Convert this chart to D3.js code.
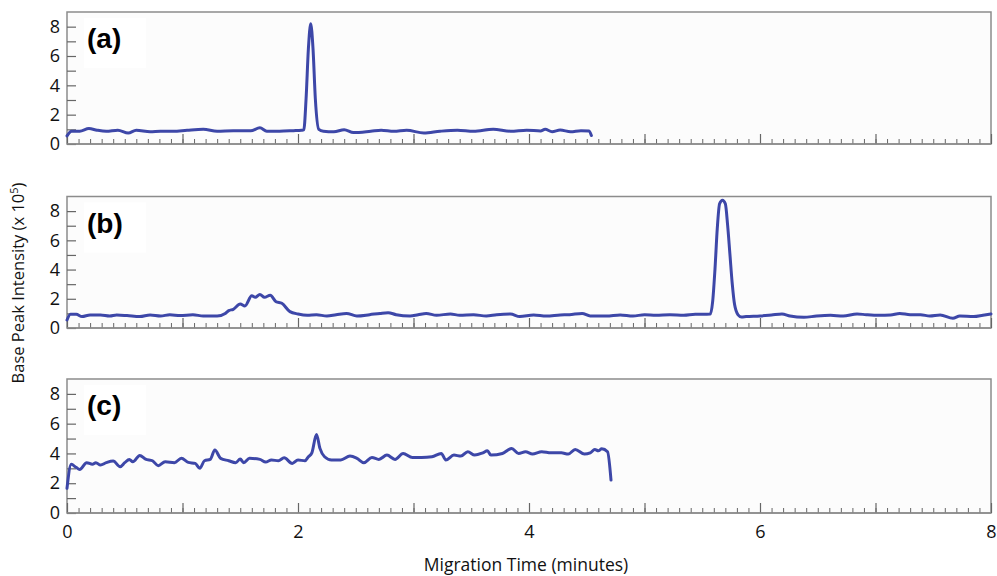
<!DOCTYPE html>
<html>
<head>
<meta charset="utf-8">
<script src="https://cdn.jsdelivr.net/npm/d3@7"></script>
<style>
  body { margin: 0; background: #fff; }
  svg { display: block; }
</style>
</head>
<body>
<svg id="chart"></svg>
<script>
// panel letters
var panelNames = ["(a)", "(b)", "(c)"];

// migration time (minutes) and base peak intensity (x 10^5)
var timeA = [0, 0.04, 0.11, 0.19, 0.26, 0.34, 0.44, 0.53, 0.60, 0.72, 0.81, 0.92, 1.04, 1.18, 1.30, 1.44, 1.59, 1.67, 1.73, 1.84, 1.96, 2.03,
  2.05, 2.07, 2.09, 2.11, 2.13, 2.15, 2.18,
  2.22, 2.31, 2.40, 2.48, 2.63, 2.72, 2.83, 2.94, 3.09, 3.23, 3.38, 3.52, 3.69, 3.84, 3.98, 4.10, 4.14, 4.20, 4.27, 4.36, 4.45, 4.52, 4.54];
var valA = [0.55, 0.87, 0.87, 1.05, 0.94, 0.87, 0.94, 0.75, 0.94, 0.83, 0.87, 0.87, 0.94, 1.0, 0.87, 0.91, 0.91, 1.1, 0.87, 0.87, 0.91, 0.94,
  0.96, 3.1, 6.5, 8.2, 6.5, 3.1, 1.0,
  0.87, 0.83, 0.97, 0.78, 0.87, 0.94, 0.87, 0.94, 0.75, 0.87, 0.94, 0.87, 1.0, 0.87, 0.94, 0.89, 1.0, 0.84, 0.95, 0.84, 0.91, 0.89, 0.58];

var timeB = [0, 0.03, 0.08, 0.13, 0.20, 0.29, 0.37, 0.43, 0.52, 0.63, 0.72, 0.81, 0.89, 0.98, 1.09, 1.18, 1.30,
  1.37, 1.40, 1.44, 1.50, 1.54, 1.60, 1.63, 1.67, 1.71, 1.76, 1.81, 1.86, 1.93, 2.00,
  2.08, 2.16, 2.25, 2.33, 2.42, 2.51, 2.62, 2.71, 2.78, 2.85, 2.97, 3.04, 3.11, 3.20, 3.32, 3.40, 3.52, 3.63, 3.72, 3.84, 3.92,
  4.04, 4.15, 4.27, 4.35, 4.46, 4.53, 4.67, 4.79, 4.90, 5.00, 5.10, 5.22, 5.34, 5.44, 5.54,
  5.57, 5.59, 5.61, 5.63, 5.65, 5.675, 5.70, 5.72, 5.74, 5.76, 5.78, 5.81, 5.84,
  5.88, 6.00, 6.10, 6.19, 6.26, 6.38, 6.49, 6.61, 6.72, 6.84, 6.92, 7.03, 7.13, 7.21, 7.30, 7.39, 7.47, 7.56, 7.67, 7.73, 7.85, 7.93, 8.0];
var valB = [0.55, 0.94, 0.94, 0.78, 0.89, 0.89, 0.82, 0.89, 0.85, 0.78, 0.89, 0.82, 0.91, 0.85, 0.91, 0.82, 0.82,
  1.0, 1.19, 1.28, 1.64, 1.51, 2.21, 2.1, 2.3, 2.1, 2.24, 1.8, 1.69, 1.12, 0.96,
  0.87, 0.91, 0.82, 0.91, 1.0, 0.82, 0.91, 1.0, 1.05, 0.91, 0.82, 0.91, 1.0, 0.87, 0.96, 0.87, 0.91, 0.82, 0.91, 0.96, 0.78,
  0.89, 0.82, 0.89, 0.91, 1.0, 0.82, 0.82, 0.89, 0.82, 0.91, 0.87, 0.91, 0.87, 0.94, 0.94,
  0.95, 1.8, 4.0, 6.8, 8.5, 8.75, 8.5, 7.0, 5.0, 3.0, 1.6, 0.9, 0.75,
  0.78, 0.82, 0.89, 0.96, 0.82, 0.73, 0.82, 0.87, 0.82, 0.96, 0.91, 0.87, 0.89, 1.0, 0.91, 0.91, 0.82, 0.89, 0.66, 0.82, 0.78, 0.87, 0.96];

var timeC = [0, 0.037, 0.078, 0.11, 0.17, 0.22, 0.25, 0.29, 0.34, 0.40, 0.46, 0.50, 0.54, 0.57, 0.63, 0.68, 0.74, 0.79, 0.85, 0.93, 0.99,
  1.05, 1.11, 1.15, 1.19, 1.24, 1.28, 1.33, 1.40, 1.46, 1.50, 1.53, 1.58, 1.67, 1.72, 1.77, 1.83, 1.88, 1.95, 2.00, 2.06, 2.09, 2.12,
  2.16, 2.19, 2.23, 2.29, 2.37, 2.45, 2.51, 2.57, 2.64, 2.70, 2.77, 2.84, 2.91, 2.99, 3.07, 3.16, 3.24, 3.28, 3.35, 3.41, 3.47, 3.53,
  3.60, 3.64, 3.67, 3.77, 3.85, 3.91, 3.97, 4.03, 4.11, 4.19, 4.28, 4.34, 4.40, 4.48, 4.53, 4.57, 4.60, 4.63, 4.68, 4.71];
var valC = [1.66, 3.27, 3.07, 2.93, 3.38, 3.27, 3.38, 3.22, 3.38, 3.49, 3.11, 3.38, 3.6, 3.44, 3.87, 3.62, 3.51, 3.18, 3.44, 3.38, 3.67,
  3.4, 3.33, 3.0, 3.51, 3.6, 4.23, 3.67, 3.51, 3.38, 3.62, 3.38, 3.67, 3.6, 3.42, 3.56, 3.51, 3.71, 3.33, 3.56, 3.51, 3.78, 4.04,
  5.28, 4.34, 3.78, 3.56, 3.56, 3.82, 3.67, 3.38, 3.73, 3.6, 3.89, 3.6, 4.0, 3.73, 3.73, 3.78, 4.0, 3.56, 3.89, 3.82, 4.11, 3.89,
  4.04, 4.18, 3.89, 4.0, 4.34, 4.0, 4.11, 3.96, 4.11, 4.04, 4.04, 3.96, 4.27, 3.96, 4.04, 4.27, 4.18, 4.31, 4.11, 2.21];

// axis ticks
var xLabelTicks = [0, 2, 4, 6, 8];
var yLabelTicks = [0, 2, 4, 6, 8];

var width = 997, height = 576;
var svg = d3.select("#chart").attr("width", width).attr("height", height);

// panel boxes (top, bottom) in pixels
var panels = [
  {name: panelNames[0], t: timeA, v: valA, top: 12, bottom: 144},
  {name: panelNames[1], t: timeB, v: valB, top: 196.5, bottom: 328},
  {name: panelNames[2], t: timeC, v: valC, top: 379, bottom: 513}
];

var x = d3.scaleLinear().domain([0, 8]).range([67, 991]);
var minorX = d3.range(0, 81).map(function(i) { return i / 10; });
var majorX = d3.range(0, 9);

panels.forEach(function(p, idx) {
  var y = d3.scaleLinear().domain([0, 9]).range([p.bottom, p.top]);
  var g = svg.append("g");

  // frame
  g.append("rect")
    .attr("x", x(0)).attr("y", p.top)
    .attr("width", x(8) - x(0)).attr("height", p.bottom - p.top)
    .attr("fill", "#fcfcfc").attr("stroke", "#8c8c8c").attr("stroke-width", 1.5);

  // faint white box behind the panel letter
  g.append("rect")
    .attr("x", 84).attr("y", p.top + 6)
    .attr("width", 62).attr("height", 50)
    .attr("fill", "#ffffff");

  // y axis, ticks pointing inward
  var yAxis = d3.axisLeft(y)
    .tickValues(d3.range(0, 9))
    .tickSize(-9)
    .tickPadding(7)
    .tickFormat(function(d) { return yLabelTicks.indexOf(d) >= 0 ? d : ""; });
  var ya = g.append("g").attr("transform", "translate(" + x(0) + ",0)").call(yAxis);
  ya.select(".domain").remove();
  ya.selectAll("line").attr("stroke", "#666").attr("stroke-width", 1.2);
  ya.selectAll("text").attr("font-family", "'Open Sans', sans-serif").attr("font-size", 18).attr("fill", "#111");

  // x axis minor ticks
  var xm = g.append("g").attr("transform", "translate(0," + p.bottom + ")")
    .call(d3.axisBottom(x).tickValues(minorX).tickSize(-5).tickFormat(""));
  xm.select(".domain").remove();
  xm.selectAll("line").attr("stroke", "#666").attr("stroke-width", 1);

  // x axis major ticks (labels only on the bottom panel)
  var xM = g.append("g").attr("transform", "translate(0," + p.bottom + ")")
    .call(d3.axisBottom(x).tickValues(majorX).tickSize(-10).tickPadding(12)
      .tickFormat(function(d) { return (idx == 2 && xLabelTicks.indexOf(d) >= 0) ? d : ""; }));
  xM.select(".domain").remove();
  xM.selectAll("line").attr("stroke", "#666").attr("stroke-width", 1.2);
  xM.selectAll("text").attr("font-family", "'Open Sans', sans-serif").attr("font-size", 18).attr("fill", "#111");

  // redraw the bottom frame line on top of ticks
  g.append("line")
    .attr("x1", x(0)).attr("x2", x(8)).attr("y1", p.bottom).attr("y2", p.bottom)
    .attr("stroke", "#8c8c8c").attr("stroke-width", 1.5);

  // trace
  var data = p.t.map(function(t, i) { return {t: t, v: p.v[i]}; });
  var line = d3.line()
    .curve(d3.curveMonotoneX)
    .x(function(d) { return x(d.t); })
    .y(function(d) { return y(d.v); });
  g.append("path")
    .datum(data)
    .attr("d", line)
    .attr("fill", "none")
    .attr("stroke", "#3d47a8")
    .attr("stroke-width", 3)
    .attr("stroke-linejoin", "round")
    .attr("stroke-linecap", "round");

  // panel letter
  g.append("text")
    .attr("x", 87).attr("y", p.top + 36)
    .attr("font-family", "'Liberation Sans', Arial, sans-serif")
    .attr("font-weight", "bold")
    .attr("font-size", 28)
    .attr("fill", "#000")
    .text(p.name);
});

// axis titles
svg.append("text")
  .attr("x", 526).attr("y", 571)
  .attr("text-anchor", "middle")
  .attr("font-family", "'Open Sans', sans-serif")
  .attr("font-size", 17.5)
  .attr("fill", "#111")
  .text("Migration Time (minutes)");

var yt = svg.append("text")
  .attr("transform", "translate(24,283) rotate(-90)")
  .attr("text-anchor", "middle")
  .attr("font-family", "'Open Sans', sans-serif")
  .attr("font-size", 16.5)
  .attr("fill", "#111");
yt.append("tspan").text("Base Peak Intensity (x 10");
yt.append("tspan").attr("dy", -6).attr("font-size", 11).text("5");
yt.append("tspan").attr("dy", 6).text(")");
</script>
</body>
</html>
